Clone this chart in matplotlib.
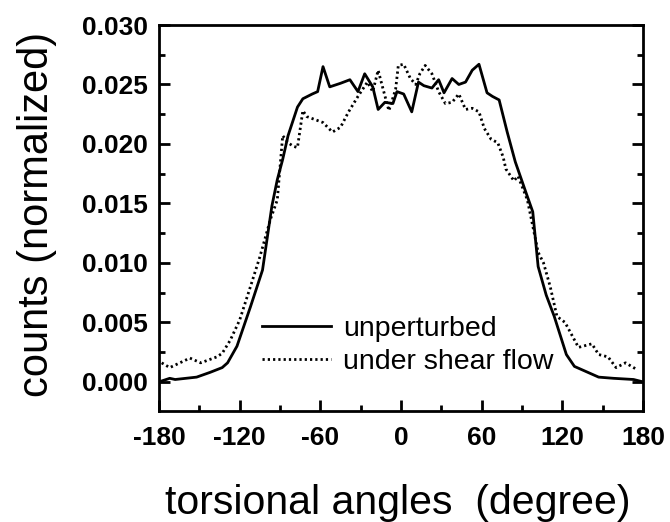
import matplotlib
matplotlib.use("Agg")
import matplotlib.pyplot as plt
from matplotlib.ticker import MultipleLocator
from matplotlib.lines import Line2D

plt.rcParams['font.family'] = ['Liberation Sans', 'DejaVu Sans']

# unperturbed
x_unp = [-180, -172, -168, -160, -152, -142, -133, -129, -122, -112, -103, -96, -92, -88, -84,
         -77, -73, -66, -62, -58, -53, -45, -38, -32, -27, -21, -17, -12, -6, -3, 2, 8, 13, 17,
         23, 28, 32, 38, 43, 48, 53, 58, 64, 68, 73, 79, 85, 93, 98, 102, 108, 114, 123, 129,
         139, 147, 158, 173, 180]
y_unp = [0.0000, 0.0003, 0.0002, 0.0003, 0.0004, 0.0008, 0.0012, 0.0016, 0.0030, 0.0063,
         0.0094, 0.0148, 0.0170, 0.0187, 0.0207, 0.0231, 0.0238, 0.0242, 0.0244, 0.0265,
         0.0248, 0.0251, 0.0254, 0.0244, 0.0259, 0.0248, 0.0229, 0.0235, 0.0234, 0.0244,
         0.0242, 0.0227, 0.0252, 0.0249, 0.0247, 0.0254, 0.0243, 0.0255, 0.0250, 0.0252,
         0.0262, 0.0267, 0.0243, 0.0240, 0.0237, 0.0210, 0.0185, 0.0159, 0.0143, 0.0097,
         0.0073, 0.0055, 0.0023, 0.0013, 0.0008, 0.0004, 0.0003, 0.0002, 0.0000]

# under shear flow
x_shr = [-178, -172, -157, -149, -137, -133, -127, -120, -112, -105, -97, -92, -88, -84, -80,
         -77, -73, -70, -58, -51, -45, -39, -32, -25, -21, -17, -14, -9, -4, -2, 2, 7, 11, 14,
         18, 23, 28, 33, 38, 43, 48, 53, 58, 62, 67, 72, 76, 78, 84, 87, 94, 98, 102, 106, 111,
         116, 122, 132, 142, 147, 154, 160, 167, 176]
y_shr = [0.0016, 0.0012, 0.0020, 0.0016, 0.0021, 0.0024, 0.0035, 0.0052, 0.0080, 0.0105,
         0.0137, 0.0153, 0.0207, 0.0201, 0.0198, 0.0197, 0.0228, 0.0223, 0.0218, 0.0210,
         0.0214, 0.0227, 0.0240, 0.0252, 0.0244, 0.0262, 0.0249, 0.0228, 0.0246, 0.0266,
         0.0267, 0.0255, 0.0250, 0.0259, 0.0266, 0.0259, 0.0244, 0.0234, 0.0235, 0.0242,
         0.0229, 0.0230, 0.0227, 0.0213, 0.0204, 0.0201, 0.0189, 0.0179, 0.0169, 0.0173,
         0.0153, 0.0131, 0.0109, 0.0100, 0.0080, 0.0055, 0.0050, 0.0029, 0.0032, 0.0023,
         0.0021, 0.0012, 0.0016, 0.0010]

x_ticks = [-180, -120, -60, 0, 60, 120, 180]
y_ticks = [0.000, 0.005, 0.010, 0.015, 0.020, 0.025, 0.030]
labels = ["unperturbed", "under shear flow"]

DOT = (0, (0.8, 1.1))

fig = plt.figure(figsize=(6.7, 5.22), dpi=100)
ax = fig.add_axes([0.2373, 0.2126, 0.7224, 0.7395])

ax.plot(x_unp, y_unp, color='black', lw=2.0, ls='-')
ax.plot(x_shr, y_shr, color='black', lw=2.0, ls=DOT)

ax.set_xlim(-180, 180)
ax.set_ylim(-0.00245, 0.030)
ax.set_xticks(x_ticks)
ax.set_xticklabels([str(v) for v in x_ticks])
ax.set_yticks(y_ticks)
ax.set_yticklabels([f"{v:.3f}" for v in y_ticks])
ax.xaxis.set_minor_locator(MultipleLocator(30))
ax.yaxis.set_minor_locator(MultipleLocator(0.0025))

for s in ax.spines.values():
    s.set_linewidth(2.0)

ax.tick_params(which='both', direction='in', top=False, right=True, width=2)
ax.tick_params(which='major', length=8, labelsize=19)
ax.tick_params(axis='y', which='major', pad=8)
ax.tick_params(axis='x', which='major', pad=11)
ax.tick_params(which='minor', length=4)
for lab in ax.get_xticklabels() + ax.get_yticklabels():
    lab.set_fontweight('bold')

ax.set_xlabel("torsional angles  (degree)", fontsize=29.5)
ax.set_ylabel("counts (normalized)", fontsize=30)
ax.xaxis.set_label_coords(0.494, -0.190)
ax.yaxis.set_label_coords(-0.210, 0.508)

handles = [Line2D([], [], color='black', lw=2.0, ls='-'),
           Line2D([], [], color='black', lw=2.0, ls=DOT)]
ax.legend(handles, labels, loc='lower left', bbox_to_anchor=(0.19, 0.065),
          frameon=False, fontsize=20.5, handlelength=2.4, handletextpad=0.45,
          labelspacing=0.22, borderaxespad=0)

fig.savefig("out.png", dpi=100)
